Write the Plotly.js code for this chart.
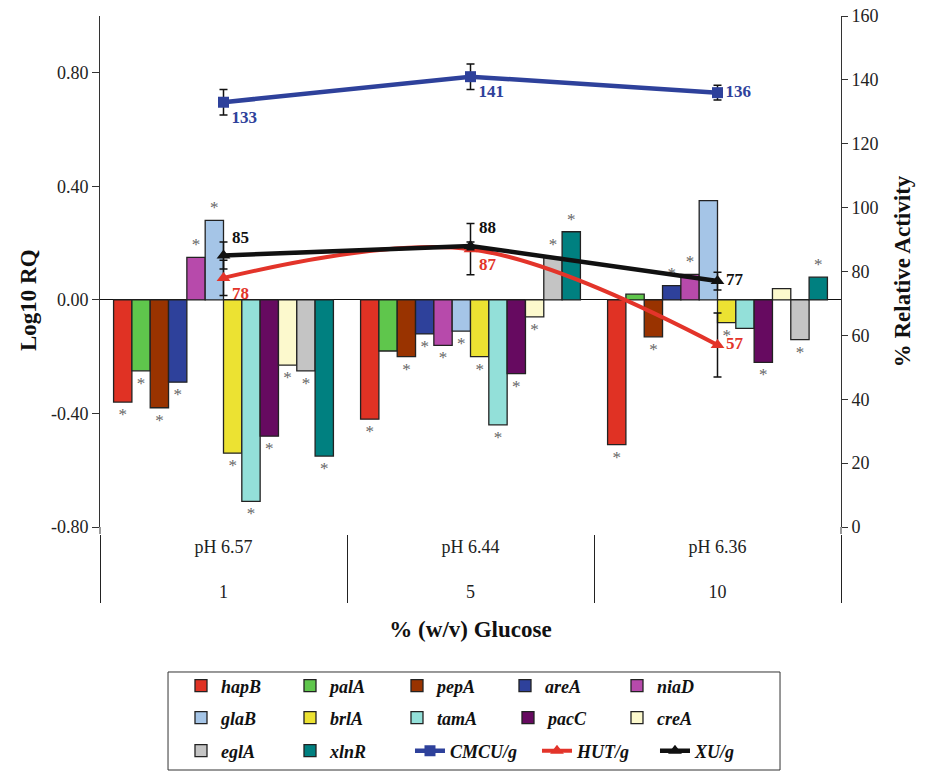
<!DOCTYPE html>
<html><head><meta charset="utf-8">
<script src="https://cdn.plot.ly/plotly-3.0.1.min.js"></script>
<style>html,body{margin:0;padding:0;background:#fff}</style>
</head><body>
<div id="chart" style="width:933px;height:771px"></div>
<script>
// ---- data ----
const glucose = ['1', '5', '10'];
const phLabels = ['pH 6.57', 'pH 6.44', 'pH 6.36'];
const genes = ['hapB','palA','pepA','areA','niaD','glaB','brlA','tamA','pacC','creA','eglA','xlnR'];
const hapB = [-0.36, -0.42, -0.51];
const palA = [-0.25, -0.18, 0.02];
const pepA = [-0.38, -0.20, -0.13];
const areA = [-0.29, -0.12, 0.05];
const niaD = [0.15, -0.16, 0.09];
const glaB = [0.28, -0.11, 0.35];
const brlA = [-0.54, -0.20, -0.08];
const tamA = [-0.71, -0.44, -0.10];
const pacC = [-0.48, -0.26, -0.22];
const creA = [-0.23, -0.06, 0.04];
const eglA = [-0.25, 0.15, -0.14];
const xlnR = [-0.55, 0.24, 0.08];
// significance (*) per gene, for 1 %, 5 % and 10 % glucose
const sigGlc1  = [1,1,1,1,1,1,1,1,1,1,1,1];
const sigGlc5  = [1,0,1,1,1,1,1,1,1,1,1,1];
const sigGlc10 = [1,0,1,1,1,0,1,0,1,0,1,1];
const cmcu = [133, 141, 136];
const cmcuErr = [4, 4, 2.3];
const hut = [78, 87, 57];
const hutErr = [5.5, 8, 10];
const xu = [85, 88, 77];
const xuErr = [4.2, 1.2, 2.8];
const yTickVals = [-0.8, -0.4, 0, 0.4, 0.8];
const yTickText = ['-0.80', '-0.40', '0.00', '0.40', '0.80'];
const y2TickVals = [0, 20, 40, 60, 80, 100, 120, 140, 160];

// ---- styles ----
const geneValues = [hapB, palA, pepA, areA, niaD, glaB, brlA, tamA, pacC, creA, eglA, xlnR];
const geneColors = ['#e03224','#5fc64c','#993300','#2e419b','#b74aab','#a5c5e7',
                    '#ece232','#93e0d9','#660a60','#fcf9cd','#c4c4c4','#008080'];
const legendOf = i => (i < 5 ? 'legend' : (i < 10 ? 'legend2' : 'legend3'));
const legendWidths = [64,62,63,67,60, 64,62,66,64,60, 64,75];
const serif = 'Liberation Serif, Times New Roman, serif';
// outer (glucose) row gets an empty first line so it sits further below the pH row
const xcat = [glucose.map(s => '<br>' + s), phLabels];

const traces = [];
genes.forEach((g, i) => {
  const sig = [sigGlc1[i], sigGlc5[i], sigGlc10[i]];
  traces.push({
    type: 'bar', name: g, x: xcat, y: geneValues[i],
    marker: {color: geneColors[i], line: {color: '#222', width: 1.3}},
    text: sig.map(s => (s ? '*' : '')),
    textposition: 'outside', cliponaxis: false,
    textfont: {family: serif, size: 17, color: '#666'},
    legend: legendOf(i), legendwidth: legendWidths[i],
    hoverinfo: 'skip'
  });
});

const lineTrace = (name, vals, errs, color, symbol, msize, positions, lw, shape, width) => ({
  type: 'scatter', mode: 'lines+markers+text', name: name, x: xcat, y: vals, yaxis: 'y2',
  line: {color: color, width: width, shape: shape, smoothing: 1},
  marker: {color: color, symbol: symbol, size: msize},
  error_y: {type: 'data', array: errs, visible: true, color: '#111', thickness: 1.5, width: 4},
  text: vals.map(String), textposition: positions,
  textfont: {family: serif, size: 17, color: color, weight: 'bold'},
  cliponaxis: false, legend: 'legend3', legendwidth: lw, hoverinfo: 'skip'
});
traces.push(lineTrace('CMCU/g', cmcu, cmcuErr, '#2e419b', 'square', 11,
  ['bottom right', 'bottom right', 'middle right'], 82, 'linear', 4.5));
traces.push(lineTrace('HUT/g', hut, hutErr, '#e3342a', 'triangle-up', 12,
  ['bottom right', 'bottom right', 'middle right'], 73, 'spline', 4));
traces.push(lineTrace('XU/g', xu, xuErr, '#111111', 'triangle-up', 12,
  ['top right', 'top right', 'middle right'], 60, 'linear', 4.5));

const legendFont = {family: serif, size: 18, color: '#111', weight: 'bold', style: 'italic'};
const mkLegend = (y) => ({
  orientation: 'h', x: 0.1093, xanchor: 'left', y: y, yanchor: 'middle',
  font: legendFont, bgcolor: 'rgba(0,0,0,0)', borderwidth: 0, itemclick: false
});
const titleFont = {family: serif, size: 23, color: '#111', weight: 'bold'};

const yDomainStart = 0.0135;
const layout = {
  width: 933, height: 771,
  margin: {l: 100, r: 92, t: 16, b: 237, autoexpand: false},
  paper_bgcolor: '#fff', plot_bgcolor: '#fff',
  font: {family: serif, color: '#222'},
  barmode: 'group', bargap: 0.11, bargroupgap: 0,
  showlegend: true,
  xaxis: {
    type: 'multicategory', anchor: 'free', position: 0,
    showgrid: false, zeroline: false, showline: false,
    ticks: '', showdividers: true, dividercolor: '#222', dividerwidth: 1,
    tickfont: {family: serif, size: 18, color: '#222'},
    title: {text: '% (w/v) Glucose', font: titleFont, standoff: 19}
  },
  yaxis: {
    domain: [yDomainStart, 1],
    range: [-0.8, 1.0], tickvals: yTickVals, ticktext: yTickText,
    showgrid: false, zeroline: true, zerolinecolor: '#111', zerolinewidth: 1,
    showline: true, linecolor: '#333', linewidth: 1,
    ticks: 'outside', ticklen: 7, tickcolor: '#333',
    tickfont: {family: serif, size: 18, color: '#222'}
  },
  yaxis2: {
    overlaying: 'y', side: 'right', range: [0, 160], tickvals: y2TickVals,
    showgrid: false, zeroline: false, showline: true, linecolor: '#333', linewidth: 1,
    ticks: 'outside', ticklen: 6, tickcolor: '#333',
    tickfont: {family: serif, size: 18, color: '#222'},
    title: {text: '% Relative Activity', font: titleFont, standoff: 16}
  },
  annotations: [{
    text: 'Log10 RQ', font: titleFont, textangle: -90, showarrow: false,
    xref: 'paper', yref: 'paper', x: -0.0972, y: 0.4517, xanchor: 'center', yanchor: 'middle'
  }],
  legend: mkLegend(-0.2934),
  legend2: mkLegend(-0.3552),
  legend3: mkLegend(-0.4189),
  shapes: [
    {type: 'rect', xref: 'paper', yref: 'paper',
     x0: 0.0918, x1: 0.9177, y0: -0.4556, y1: -0.2664,
     line: {color: '#333', width: 1}, fillcolor: 'rgba(0,0,0,0)', layer: 'above'},
    // continue the two value-axis lines down to the category axis
    {type: 'line', xref: 'paper', yref: 'paper', x0: 0, x1: 0, y0: 0, y1: yDomainStart,
     line: {color: '#333', width: 1}},
    {type: 'line', xref: 'paper', yref: 'paper', x0: 1, x1: 1, y0: 0, y1: yDomainStart,
     line: {color: '#333', width: 1}}
  ]
};

Plotly.newPlot('chart', traces, layout, {staticPlot: true, displayModeBar: false});
</script>
</body></html>
